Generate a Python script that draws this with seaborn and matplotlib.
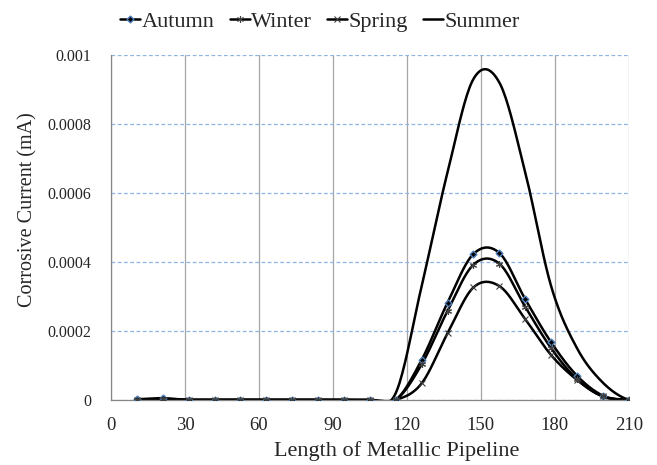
import numpy as np
import matplotlib
matplotlib.use("Agg")
import matplotlib.pyplot as plt
import seaborn as sns
from matplotlib.lines import Line2D

# data (length along pipeline vs corrosive current, mA)
length = [10.5, 21, 31.5, 42, 52.5, 63, 73.5, 84, 94.5, 105,
          115.5, 126, 136.5, 147, 157.5, 168, 178.5, 189, 199.5, 210]
autumn = [0.000002, 0.000005, 0, 0, 0, 0, 0, 0, 0, 0,
          0, 0.000116, 0.000282, 0.000423, 0.000426, 0.000292, 0.000167, 0.00007, 0.0000125, 0]
winter = [0, 0.000002, 0, 0, 0, 0, 0, 0, 0, 0,
          0, 0.000103, 0.000258, 0.000392, 0.000395, 0.00027, 0.00015, 0.00006, 0.00001, 0]
spring = [0, 0, 0, 0, 0, 0, 0, 0, 0, 0,
          0, 0.000048, 0.000193, 0.000326, 0.00033, 0.000234, 0.00013, 0.000058, 0.00001, 0]
summer = [0, 0, 0, 0, 0, 0, 0, 0, 0, 0,
          0.00002, 0.00033, 0.00066, 0.00093, 0.00092, 0.00066, 0.00033, 0.00015, 0.00005, 0]

x_ticks = [0, 30, 60, 90, 120, 150, 180, 210]
y_ticks = [0, 0.0002, 0.0004, 0.0006, 0.0008, 0.001]
y_tick_labels = ["0", "0.0002", "0.0004", "0.0006", "0.0008", "0.001"]


def smooth(x, y, n=20):
    # Excel-style smoothed line (Catmull-Rom through the points)
    x = np.asarray(x, float)
    y = np.asarray(y, float)
    xs, ys = [], []
    for i in range(len(x) - 1):
        y0 = y[i - 1] if i > 0 else y[i]
        y3 = y[i + 2] if i + 2 < len(y) else y[i + 1]
        m1 = (y[i + 1] - y0) / 2
        m2 = (y3 - y[i]) / 2
        t = np.linspace(0, 1, n, endpoint=False)
        h00 = 2 * t**3 - 3 * t**2 + 1
        h10 = t**3 - 2 * t**2 + t
        h01 = -2 * t**3 + 3 * t**2
        h11 = t**3 - t**2
        xs.append(x[i] + t * (x[i + 1] - x[i]))
        ys.append(h00 * y[i] + h10 * m1 + h01 * y[i + 1] + h11 * m2)
    xs.append([x[-1]])
    ys.append([y[-1]])
    return np.concatenate(xs), np.concatenate(ys)


sns.set_style("white")
plt.rcParams['font.family'] = ['Liberation Serif', 'DejaVu Serif']

fig = plt.figure(figsize=(6.57, 4.65), dpi=100)
ax = fig.add_axes([0.169, 0.140, 0.788, 0.742])

series = [
    ("Autumn", autumn, dict(marker="D", ms=3.5, mfc="black", mec="#4F81BD", mew=1.0)),
    ("Winter", winter, dict(marker=(6, 2, 0), ms=5, mec="#404040", mew=0.8)),
    ("Spring", spring, dict(marker="x", ms=4, mec="#404040", mew=0.8)),
    ("Summer", summer, dict(marker=None)),
]

handles = []
for name, vals, mk in series:
    sx, sy = smooth(length, vals)
    sns.lineplot(x=sx, y=sy, ax=ax, color="black", lw=1.8, sort=False, estimator=None)
    if mk["marker"] is not None:
        ax.plot(length, vals, linestyle="none", zorder=3, **mk)
    handles.append(Line2D([], [], color="black", lw=1.8, **mk))

ax.set_xlim(0, 210)
ax.set_ylim(0, 0.001)
ax.set_xticks(x_ticks)
ax.set_yticks(y_ticks)
ax.set_yticklabels(y_tick_labels)
ax.tick_params(length=4, color="#868686", width=0.8)
ax.tick_params(axis="x", labelsize=13.5, pad=8)
ax.tick_params(axis="y", labelsize=11.5, pad=10)

ax.xaxis.grid(True, color="#A6A6A6", lw=0.9, ls="-")
ax.yaxis.grid(True, color="#8EB4E3", lw=0.9, ls=(0, (3, 2)))
ax.set_axisbelow(True)
for side in ["top", "right"]:
    ax.spines[side].set_visible(False)
for side in ["left", "bottom"]:
    ax.spines[side].set_color("#868686")
    ax.spines[side].set_linewidth(0.9)

ax.set_xlabel("Length of Metallic Pipeline", fontsize=16)
ax.set_ylabel("Corrosive Current (mA)", fontsize=14.5)
ax.xaxis.set_label_coords(0.552, -0.12)
ax.yaxis.set_label_coords(-0.143, 0.551)

fig.legend(handles, [s[0] for s in series], loc="center", bbox_to_anchor=(0.487, 0.953),
           ncol=4, frameon=False, fontsize=16, handlelength=0.9, handletextpad=0.05,
           columnspacing=0.7)

fig.savefig("out.png", dpi=100)
